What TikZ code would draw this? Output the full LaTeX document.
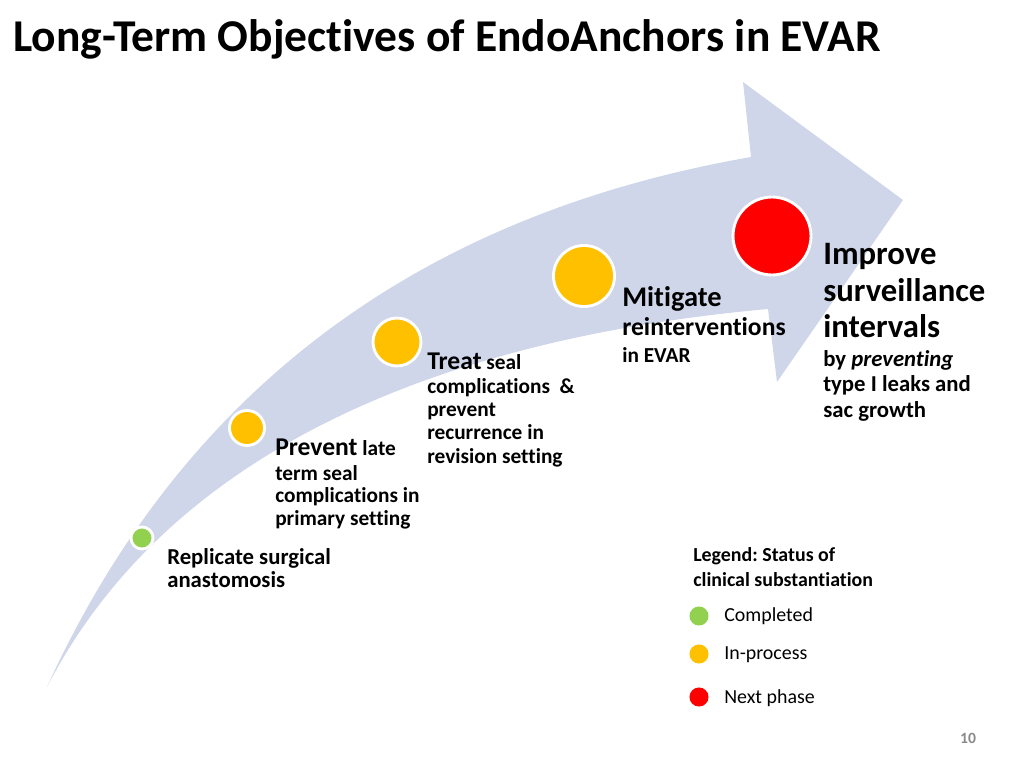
\documentclass[tikz,border=0pt]{standalone}
\usepackage{fontspec}
\setmainfont{Carlito}[Ligatures=NoCommon]
\usepackage{xcolor}
\usepackage{tikz}
\definecolor{arrowblue}{RGB}{207,214,234}
\definecolor{donegreen}{RGB}{146,208,80}
\definecolor{busyorange}{RGB}{255,192,0}
\definecolor{nextred}{RGB}{255,0,0}
\definecolor{pagegray}{RGB}{137,137,137}
\lineskiplimit=-20pt
\frenchspacing

\begin{document}
\begin{tikzpicture}[x=0.703125pt,y=-0.703125pt,
  stage/.style={circle,draw=white,line width=2pt,inner sep=0pt},
  legdot/.style={circle,inner sep=0pt,minimum size=13.4pt},
  txt/.style={anchor=base west,inner sep=0pt,align=left}]
\useasboundingbox (0,0) rectangle (1024,768);
% the big curved arrow
\fill [arrowblue] (47,687) .. controls (213,323) and (505,200) .. (751,157)
  -- (743,82) -- (903,200) -- (777,382) -- (768,309)
  .. controls (480,335) and (180,430) .. (47,687) -- cycle;
\node [txt,font=\fontsize{32}{38}\selectfont\bfseries] (title) at (13,52) {Long-Term Objectives of EndoAnchors in EVAR};
% milestones
\node [stage,fill=donegreen,minimum size=15.5pt] (s1) at (142,538) {};
\node [stage,fill=busyorange,minimum size=24.6pt] (s2) at (247,428) {};
\node [stage,fill=busyorange,minimum size=33.7pt] (s3) at (397,342) {};
\node [stage,fill=busyorange,minimum size=42.9pt] (s4) at (584,276) {};
\node [stage,fill=nextred,minimum size=54.8pt] (s5) at (772,236) {};
% texts (anchored at the baseline of their last line)
\node [txt,font=\fontsize{16}{15.5}\selectfont\bfseries] (t1) at (167,587) {Replicate surgical\\anastomosis};
\node [txt,font=\fontsize{15}{15.5}\selectfont\bfseries] (t2) at (275,525) {{\fontsize{18}{18}\selectfont Prevent} late\\[2.1pt]term seal\\complications in\\primary setting};
\node [txt,font=\fontsize{15}{16.4}\selectfont\bfseries] (t3) at (427,463) {{\fontsize{18}{18}\selectfont Treat} seal\\complications~~\&\\prevent\\recurrence in\\revision setting};
\node [txt,font=\fontsize{15}{18.3}\selectfont\bfseries] (t4) at (622,362) {{\fontsize{20}{20}\selectfont Mitigate}\\[2.1pt]{\fontsize{18}{18}\selectfont reinterventions}\\in EVAR};
\node [txt,font=\fontsize{23}{26}\selectfont\bfseries] (t5) at (823,338) {Improve\\surveillance\\intervals};
\node [txt,font=\fontsize{16}{17.9}\selectfont\bfseries] (t6) at (823,417) {by \textit{preventing}\\type I leaks and\\sac growth};
% legend
\node [txt,font=\fontsize{14}{16.9}\selectfont\bfseries] (leg) at (693,586) {Legend: Status of\\clinical substantiation};
\node [legdot,fill=donegreen] (d1) at (699,616) {};
\node [legdot,fill=busyorange] (d2) at (699,654) {};
\node [legdot,fill=nextred] (d3) at (699,697) {};
\node [txt,font=\fontsize{14}{17}\selectfont] (l1) at (724,621) {Completed};
\node [txt,font=\fontsize{14}{17}\selectfont] (l2) at (724,659) {In-process};
\node [txt,font=\fontsize{14}{17}\selectfont] (l3) at (724,703) {Next phase};
\node [anchor=base,inner sep=0pt,text=pagegray,font=\fontsize{11}{13}\selectfont\bfseries] (page) at (968,743) {10};
\end{tikzpicture}
\end{document}
